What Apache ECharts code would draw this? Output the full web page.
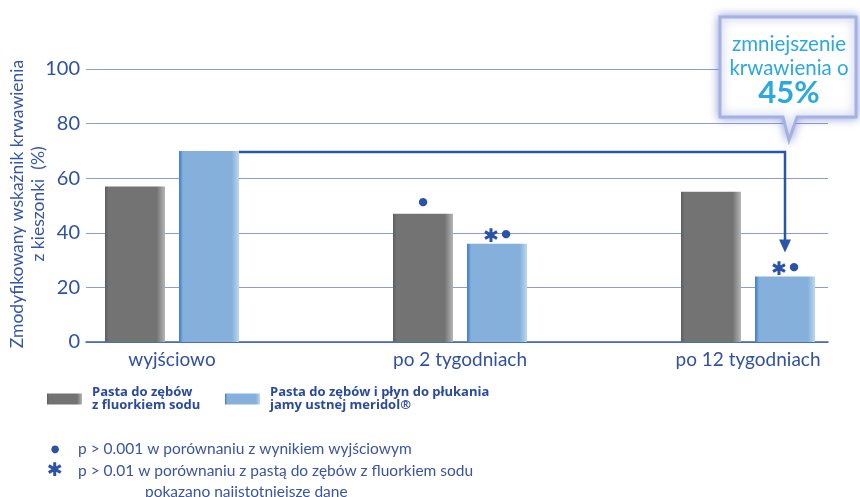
<!DOCTYPE html>
<html><head><meta charset="utf-8">
<script src="https://cdn.jsdelivr.net/npm/echarts@6/dist/echarts.min.js"></script>
<style>html,body{margin:0;padding:0;background:#fff}#c{width:860px;height:497px}</style>
</head><body><div id="c"></div>
<script>
// ---- data ----
const categories = ['wyjściowo', 'po 2 tygodniach', 'po 12 tygodniach'];
const fluorideValues = [57, 47, 55];
const meridolValues = [70, 36, 24];
const fluorideMarks = ['', '●', ''];
const meridolMarks = ['', '✱●', '✱●'];
const yTicks = [0, 20, 40, 60, 80, 100];
const seriesNames = ['Pasta do zębów\nz fluorkiem sodu', 'Pasta do zębów i płyn do płukania\njamy ustnej meridol®'];
const yTitle = ['Zmodyfikowany wskaźnik krwawienia', 'z kieszonki  (%)'];
const calloutLines = ['zmniejszenie', 'krwawienia o', '45%'];
const footnoteSymbols = ['●', '✱'];
const footnoteTexts = ['p > 0.001 w porównaniu z wynikiem wyjściowym', 'p > 0.01 w porównaniu z pastą do zębów z fluorkiem sodu', 'pokazano najistotniejsze dane'];

// ---- style ----
const FONT = 'Lato';
const BLUE_TXT = '#2f51a3';
const GRID_CLR = '#8f9bd6';
const BAR_W = 60, BAR_GAP = 14;

const grayFill = {type:'linear', x:0, y:0, x2:1, y2:0, colorStops:[
  {offset:0, color:'#5e5e5e'}, {offset:0.06, color:'#737373'}, {offset:0.86, color:'#737373'}, {offset:1, color:'#b5b5b5'}]};
const blueFill = {type:'linear', x:0, y:0, x2:1, y2:0, colorStops:[
  {offset:0, color:'#3b7dcb'}, {offset:0.07, color:'#86b0dc'}, {offset:0.88, color:'#86b0dc'}, {offset:1, color:'#bcd8f0'}]};

function markFmt(marks){
  return p => marks[p.dataIndex].split('').map(ch => ch === '✱' ? '{a|✱}' : '{d|●}').join('');
}
const markRich = {
  a:{fontSize:19, fontWeight:'bold', color:'#2a52a8', fontFamily:'DejaVu Sans', padding:[0,2,0,0]},
  d:{fontSize:11, color:'#2a52a8', fontFamily:'DejaVu Sans', padding:[0,0,6,0]}
};
const legendText = {color:'#2a4a9e', fontSize:13, fontWeight:'bold', fontFamily:'Open Sans', lineHeight:13, padding:[0,0,0,5]};

const chart = echarts.init(document.getElementById('c'), null, {renderer:'canvas'});
const option = {
  animation:false,
  backgroundColor:'#fff',
  grid:[
    {left:86, right:32, top:69, bottom:155, outerBoundsMode:'none'},
    {left:28, right:-32, top:69, bottom:155, outerBoundsMode:'none'}
  ],
  xAxis:[
    {gridIndex:0, type:'value', min:0, max:1, axisLabel:{show:false}, axisTick:{show:false}, splitLine:{show:false},
     axisLine:{show:true, lineStyle:{color:'#3a5db5', width:1.5}}},
    {gridIndex:1, type:'category', data:categories, axisLine:{show:false}, axisTick:{show:false},
     axisLabel:{color:BLUE_TXT, fontSize:19, fontFamily:FONT, margin:8}}
  ],
  yAxis:[
    {gridIndex:0, type:'value', min:yTicks[0], max:yTicks[yTicks.length-1], interval:yTicks[1]-yTicks[0],
     axisLine:{show:false}, axisTick:{show:false},
     axisLabel:{color:BLUE_TXT, fontSize:20, fontFamily:FONT, margin:6},
     splitLine:{lineStyle:{color:GRID_CLR, width:1}}},
    {gridIndex:1, type:'value', min:yTicks[0], max:yTicks[yTicks.length-1], show:false, splitLine:{show:false}}
  ],
  legend:[
    {data:[seriesNames[0]], left:47, top:386, padding:0, itemWidth:35, itemHeight:11, itemGap:0, icon:'rect', textStyle:legendText},
    {data:[seriesNames[1]], left:225, top:386, padding:0, itemWidth:35, itemHeight:11, itemGap:0, icon:'rect', textStyle:legendText}
  ],
  series:[
    {name:seriesNames[0], type:'bar', xAxisIndex:1, yAxisIndex:1, data:fluorideValues, barWidth:BAR_W,
     barGap:(BAR_GAP/BAR_W*100)+'%', itemStyle:{color:grayFill},
     label:{show:true, position:'top', distance:0, formatter:markFmt(fluorideMarks), rich:markRich}},
    {name:seriesNames[1], type:'bar', xAxisIndex:1, yAxisIndex:1, data:meridolValues, barWidth:BAR_W,
     barGap:(BAR_GAP/BAR_W*100)+'%', itemStyle:{color:blueFill},
     label:{show:true, position:'top', distance:-3, formatter:markFmt(meridolMarks), rich:markRich}}
  ]
};
chart.setOption(option);

// ---- annotations ----
const pA = chart.convertToPixel({xAxisIndex:1, yAxisIndex:1}, [0, meridolValues[0]]);
const pC = chart.convertToPixel({xAxisIndex:1, yAxisIndex:1}, [2, meridolValues[2]]);
const off = BAR_W/2 + BAR_GAP/2;
const xStart = pA[0] + off + BAR_W/2;
const xEnd = pC[0] + off;
const yLine = pA[1] + 1;
const yTip = pC[1] - 24;
const ARROW = '#2b55a8';

const graphics = [];
graphics.push({type:'polyline', shape:{points:[[xStart, yLine],[xEnd, yLine],[xEnd, yTip-11]]},
  style:{stroke:ARROW, lineWidth:2.5, fill:null}, z:10});
graphics.push({type:'polygon', shape:{points:[[xEnd-6, yTip-13],[xEnd+6, yTip-13],[xEnd, yTip]]},
  style:{fill:ARROW}, z:10});

// callout box
graphics.push({type:'polygon', shape:{points:[[720,17],[856,17],[856,117],[797,117],[789,140],[783,117],[720,117]]},
  style:{fill:'#fff', stroke:'#a4b1e2', lineWidth:3, shadowBlur:10, shadowColor:'rgba(90,110,200,0.6)'}, z:20});
graphics.push({type:'text', x:789, y:44, style:{text:calloutLines[0], fill:'#2aa8e0', font:'20.5px '+FONT, align:'center', verticalAlign:'middle'}, z:21});
graphics.push({type:'text', x:789, y:68, style:{text:calloutLines[1], fill:'#2aa8e0', font:'20.5px '+FONT, align:'center', verticalAlign:'middle'}, z:21});
graphics.push({type:'text', x:789, y:93, style:{text:calloutLines[2], fill:'#2aa8e0', font:'bold 31px '+FONT, align:'center', verticalAlign:'middle'}, z:21});

// y-axis title
graphics.push({type:'text', x:28, y:204, rotation:Math.PI/2,
  style:{text:yTitle.join('\n'), fill:'#3556aa', font:'17.5px '+FONT, align:'center', verticalAlign:'middle', lineHeight:21}, z:5});

// footnotes
graphics.push({type:'text', x:55, y:449, style:{text:footnoteSymbols[0], fill:'#2a52a8', font:'10px DejaVu Sans', align:'center', verticalAlign:'middle'}});
graphics.push({type:'text', x:55, y:471, style:{text:footnoteSymbols[1], fill:'#2a52a8', font:'bold 19px DejaVu Sans', align:'center', verticalAlign:'middle'}});
graphics.push({type:'text', x:78, y:449, style:{text:footnoteTexts[0], fill:'#3a55a0', font:'15.5px '+FONT, verticalAlign:'middle'}});
graphics.push({type:'text', x:78, y:471, style:{text:footnoteTexts[1], fill:'#3a55a0', font:'15.5px '+FONT, verticalAlign:'middle'}});
graphics.push({type:'text', x:145, y:492, style:{text:footnoteTexts[2], fill:'#3a55a0', font:'15.5px '+FONT, verticalAlign:'middle'}});

chart.setOption({graphic:graphics});
</script></body></html>
